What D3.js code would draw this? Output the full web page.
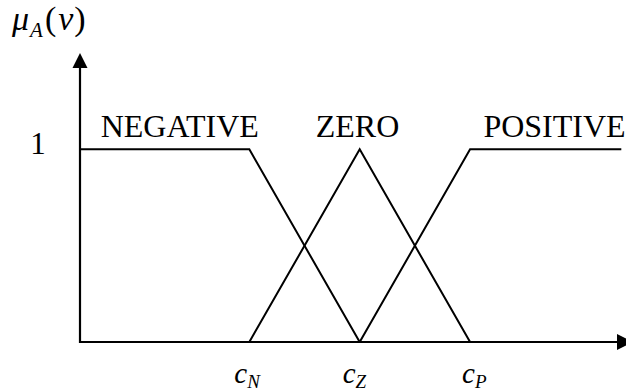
<!DOCTYPE html>
<html>
<head>
<meta charset="utf-8">
<script src="https://cdn.jsdelivr.net/npm/d3@7"></script>
<style>
  body { margin: 0; background: #fff; }
  svg { display: block; }
</style>
</head>
<body>
<div id="chart"></div>
<script>
// fuzzy set centres on the v axis
const centerNames = ['N', 'Z', 'P'];
const centerValues = [-1, 0, 1];

// membership function breakpoints [v, mu]
const setNames = ['NEGATIVE', 'ZERO', 'POSITIVE'];
const negativeMu = [[-2.53, 1], [-1, 1], [0, 0]];
const zeroMu = [[-1, 0], [0, 1], [1, 0]];
const positiveMu = [[0, 0], [1, 1], [2.37, 1]];

const yTicks = [1];

const width = 626, height = 392;
const serif = "'Liberation Serif', 'Times New Roman', Times, serif";

const svg = d3.select('#chart').append('svg')
    .attr('width', width)
    .attr('height', height)
    .attr('font-family', serif);

const x = d3.scaleLinear().domain([-2.534, 2.34]).range([80, 618]);
const y = d3.scaleLinear().domain([0, 1.5]).range([342, 53]);

// axes
svg.append('line')
    .attr('x1', x(-2.534)).attr('x2', 618)
    .attr('y1', y(0)).attr('y2', y(0))
    .attr('stroke', '#000').attr('stroke-width', 2.2);
svg.append('path')
    .attr('d', `M617,${y(0) - 8}L633,${y(0)}L617,${y(0) + 8}Z`)
    .attr('fill', '#000');

svg.append('line')
    .attr('x1', x(-2.534)).attr('x2', x(-2.534))
    .attr('y1', y(0) + 1).attr('y2', 66)
    .attr('stroke', '#000').attr('stroke-width', 2.2);
svg.append('path')
    .attr('d', `M${x(-2.534) - 7.5},68L${x(-2.534)},53L${x(-2.534) + 7.5},68Z`)
    .attr('fill', '#000');

// membership curves
const line = d3.line().x(d => x(d[0])).y(d => y(d[1]));
[negativeMu, zeroMu, positiveMu].forEach(pts => {
    svg.append('path')
        .attr('d', line(pts))
        .attr('fill', 'none')
        .attr('stroke', '#000')
        .attr('stroke-width', 2)
        .attr('stroke-linejoin', 'miter');
});

// set names
const nameX = [-1.63, -0.02, 1.765];
setNames.forEach((n, i) => {
    svg.append('text')
        .attr('x', x(nameX[i]))
        .attr('y', 137)
        .attr('text-anchor', 'middle')
        .style('font-family', serif)
        .style('font-size', '32px')
        .text(n);
});

// y tick label
yTicks.forEach(t => {
    svg.append('text')
        .attr('x', 38)
        .attr('y', y(t) + 5)
        .attr('text-anchor', 'middle')
        .style('font-family', serif)
        .style('font-size', '31px')
        .text(t);
});

// x centre labels
const labelShift = [-15, -17, -8];
centerValues.forEach((c, i) => {
    const t = svg.append('text')
        .attr('x', x(c) + labelShift[i])
        .attr('y', 383)
        .style('font-family', serif)
        .style('font-size', '29px')
        .style('font-style', 'italic');
    t.append('tspan').text('c');
    t.append('tspan')
        .attr('dy', 5)
        .style('font-size', '19px')
        .text(centerNames[i]);
});

// y axis title mu_A(v)
const title = svg.append('text')
    .attr('x', 12)
    .attr('y', 30)
    .style('font-family', serif)
    .style('font-size', '34px')
    .style('font-style', 'italic');
title.append('tspan').text('\u03bc');
title.append('tspan').attr('dy', 7).attr('dx', 1).style('font-size', '21px').text('A');
title.append('tspan').attr('dy', -7).attr('dx', 2).style('font-style', 'normal').text('(');
title.append('tspan').attr('dx', 2).text('v');
title.append('tspan').attr('dx', 1).style('font-style', 'normal').text(')');
</script>
</body>
</html>
